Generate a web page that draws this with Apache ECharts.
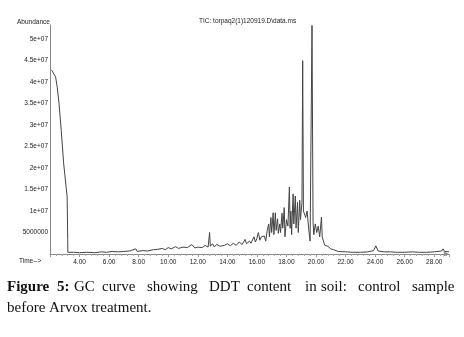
<!DOCTYPE html>
<html><head><meta charset="utf-8">
<script src="https://cdn.jsdelivr.net/npm/echarts@6/dist/echarts.min.js"></script>
<style>html,body{margin:0;padding:0;background:#fff}#c{width:464px;height:337px}</style>
</head><body><div id="c"></div>
<script>
// retention time (min)
const times = [2.11,2.38,2.49,2.61,2.76,2.92,3.16,3.20,3.21,
3.3,3.6,4.0,4.5,5.0,5.5,5.8,6.2,6.6,7.0,7.4,7.8,7.9,8.3,8.6,9.0,9.3,9.6,9.8,
10.0,10.2,10.5,10.7,11.0,11.3,11.6,11.8,12.0,12.3,12.5,12.7,12.8,12.85,13.0,13.1,13.3,13.5,13.8,
14.0,14.2,14.4,14.6,14.8,15.0,15.2,15.3,15.5,15.6,15.8,15.9,16.0,16.1,16.2,16.3,16.4,16.5,16.6,
16.7,16.8,16.85,16.95,17.0,17.1,17.15,17.25,17.3,17.4,17.45,17.55,17.6,17.7,17.75,17.85,17.9,
18.0,18.1,18.2,18.25,18.3,18.35,18.45,18.5,18.6,18.65,18.75,18.8,18.9,18.95,19.05,19.1,19.15,
19.25,19.3,19.4,19.5,19.6,19.73,19.8,19.85,19.95,20.05,20.15,20.25,20.37,20.42,20.5,20.6,20.8,
21.0,21.2,21.5,22.0,22.5,23.0,23.5,23.9,24.05,24.2,24.6,25.0,25.5,26.0,26.5,27.0,27.5,28.0,28.5,
28.6,28.7,29.0];
// abundance (millions)
const abundance = [42.8,41.2,38.8,35.1,28.8,21.2,13.3,3.3,0.4,
0.3,0.4,0.3,0.4,0.3,0.5,0.4,0.6,0.5,0.6,0.7,1.2,0.6,0.8,0.7,1.0,1.1,1.3,1.0,
1.5,1.2,1.7,1.3,1.6,1.5,2.2,1.4,1.6,1.5,2.0,1.6,5.0,1.8,2.4,1.7,2.2,1.8,2.0,
2.4,1.9,2.5,2.0,2.8,2.2,3.4,2.4,3.0,2.5,4.0,2.8,3.6,5.0,3.2,4.0,3.6,4.2,3.0,
5.5,7.0,4.0,8.5,5.0,9.6,4.5,9.6,5.5,8.2,4.8,7.0,5.0,9.5,6.0,10.8,4.0,
8.0,6.5,15.6,6.0,10.0,4.5,14.0,7.0,13.5,6.0,12.0,5.0,12.5,8.0,12.0,45.0,10.0,
9.0,8.5,10.0,6.0,3.0,53.2,7.5,4.5,7.0,5.0,6.5,4.0,8.6,4.0,3.0,2.0,1.8,
1.2,1.0,0.6,0.5,0.4,0.4,0.5,0.8,1.9,0.7,0.5,0.5,0.4,0.4,0.5,0.4,0.4,0.5,0.7,
1.2,0.6,0.5];
const xTicks = [4,6,8,10,12,14,16,18,20,22,24,26,28];
const xTickLabels = ["4.00","6.00","8.00","10.00","12.00","14.00","16.00","18.00","20.00","22.00","24.00","26.00","28.00"];
const yTicks = [5,10,15,20,25,30,35,40,45,50];
const yTickLabels = ["5000000","1e+07","1.5e+07","2e+07","2.5e+07","3e+07","3.5e+07","4e+07","4.5e+07","5e+07"];
const title = "TIC: torpaq2(1)120919.D\\data.ms";
const captionLine1 = ["Figure","5:","GC","curve","showing","DDT","content","in","soil:","control","sample"];
const captionX1 = [7,57,74,102,147,209,247,305,321,358,412];
const captionLine2 = "before Arvox treatment.";

const chart = echarts.init(document.getElementById('c'), null, {renderer:'canvas'});
const sans = 'Liberation Sans';
const graphics = [
  {type:'text', left:17, top:19, style:{text:'Abundance', font:'6.5px "Liberation Sans"', fill:'#222'}},
  {type:'text', left:19, top:258, style:{text:'Time-->', font:'6.5px "Liberation Sans"', fill:'#222'}},
  {type:'text', left:199, top:18, style:{text:title, font:'6.5px "Liberation Sans"', fill:'#222'}}
];
captionLine1.forEach((w,i)=>{
  graphics.push({type:'text', left:captionX1[i], top:280, style:{text:w, font:(i<2?'bold ':'')+'15px "Liberation Serif"', fill:'#111'}});
});
graphics.push({type:'text', left:7, top:301, style:{text:captionLine2, font:'15px "Liberation Serif"', fill:'#111'}});

chart.setOption({
  animation:false,
  grid:{left:50, right:15, top:25, bottom:83},
  xAxis:{type:'value', min:2, max:29, interval:2,
    axisLine:{show:true, lineStyle:{color:'#888', width:1}, symbol:['none','arrow'], symbolSize:[4,6]},
    axisTick:{show:true, length:3, lineStyle:{color:'#999'}},
    minorTick:{show:true, splitNumber:5, length:2, lineStyle:{color:'#aaa'}},
    splitLine:{show:false},
    axisLabel:{fontFamily:sans, fontSize:6.5, color:'#222', margin:5,
      formatter:v=>{const i=xTicks.indexOf(Math.round(v)); return (i>=0 && Math.abs(v-xTicks[i])<1e-6)?xTickLabels[i]:'';}}
  },
  yAxis:{type:'value', min:0, max:53.3, interval:5,
    axisLine:{show:true, lineStyle:{color:'#888', width:1}},
    axisTick:{show:false},
    splitLine:{show:false},
    axisLabel:{fontFamily:sans, fontSize:6.5, color:'#222', margin:2, showMaxLabel:false,
      formatter:v=>{const i=yTicks.indexOf(Math.round(v)); return (i>=0 && Math.abs(v-yTicks[i])<1e-6)?yTickLabels[i]:'';}}
  },
  series:[{type:'line', data:times.map((t,i)=>[t,abundance[i]]), showSymbol:false, symbol:'none',
    lineStyle:{color:'#444', width:1}, clip:false}],
  graphic:graphics
});
</script></body></html>
